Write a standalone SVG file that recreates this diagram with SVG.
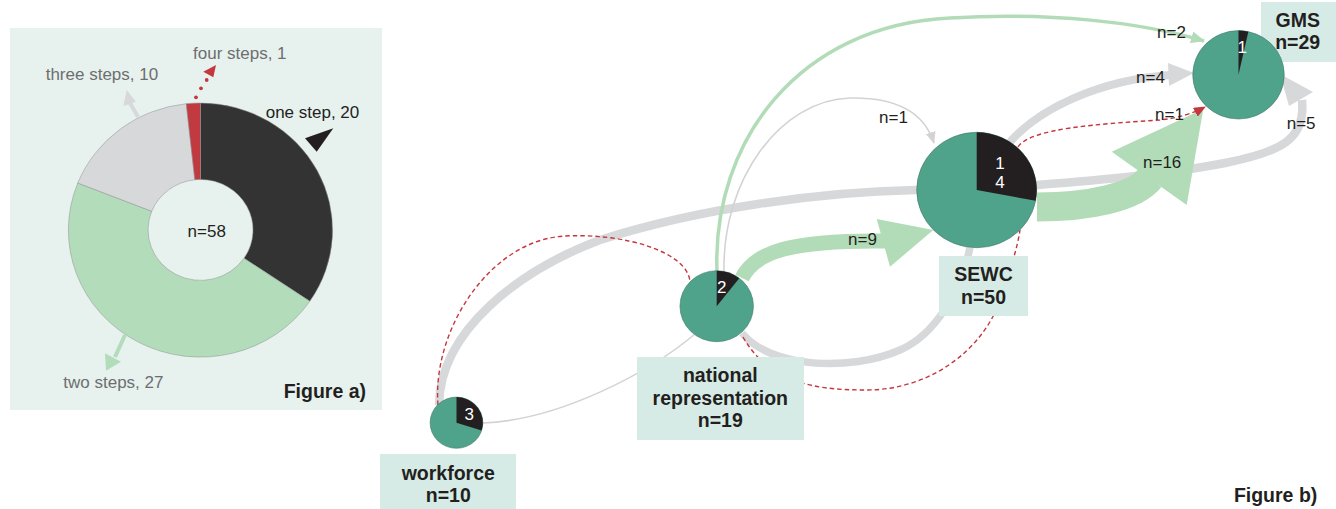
<svg xmlns="http://www.w3.org/2000/svg" width="1336" height="509" viewBox="0 0 1336 509">
  <style>
    text { font-family: "Liberation Sans", Arial, Helvetica, sans-serif; }
    .lbl { font-size: 17px; fill: #231f20; }
    .muted { font-size: 17px; fill: #6d6e70; }
    .cap { font-size: 19.5px; font-weight: bold; fill: #231f20; text-anchor: middle; }
    .fig { font-size: 19.5px; font-weight: bold; fill: #231f20; text-anchor: end; }
    .pie-num { font-size: 17px; fill: #ffffff; text-anchor: middle; }
    .box { fill: #d6ebe5; }
    .teal { fill: #50a38b; stroke: #3f7a69; stroke-width: 0.6; }
    .blk { fill: #231f20; }
    .flow-gray { fill: none; stroke: #d7d8da; stroke-linecap: butt; }
    .flow-thin { fill: none; stroke: #d3d3d5; stroke-width: 1.6; }
    .flow-green { fill: none; stroke: #b2dcb8; }
    .flow-red { fill: none; stroke: #c5363d; stroke-width: 1.4; stroke-dasharray: 4.5 3; }
    .slice { stroke: #8f9092; stroke-width: 0.5; }
  </style>
  <defs>
    <marker id="head-thin" viewBox="0 0 12 10" refX="11" refY="5" markerWidth="12" markerHeight="10" orient="auto" markerUnits="userSpaceOnUse">
      <path d="M0,0 L12,5 L0,10 Z" fill="#d3d3d5"/>
    </marker>
    <marker id="head-green" viewBox="0 0 14 12" refX="13" refY="6" markerWidth="14" markerHeight="12" orient="auto" markerUnits="userSpaceOnUse">
      <path d="M0,0 L14,6 L0,12 Z" fill="#b2dcb8"/>
    </marker>
    <marker id="head-red" viewBox="0 0 12 10" refX="11" refY="5" markerWidth="12" markerHeight="10" orient="auto" markerUnits="userSpaceOnUse">
      <path d="M0,0 L12,5 L0,10 Z" fill="#c5363d"/>
    </marker>
  </defs>

  <!-- Figure a: number of steps, donut chart -->
  <g id="figure-a">
    <rect x="10" y="28" width="372" height="382" fill="#e7f2ee"/>
    <g transform="translate(200.5,230) scale(1.04,1)">
      <path class="slice" fill="#333333" d="M0,-127 A127,127 0 0 1 105.1,71.3 L41.8,28.3 A50.5,50.5 0 0 0 0,-50.5 Z"/>
      <path class="slice" fill="#b3dcba" d="M105.1,71.3 A127,127 0 0 1 -118,-47 L-46.9,-18.7 A50.5,50.5 0 0 0 41.8,28.3 Z"/>
      <path class="slice" fill="#d7d8da" d="M-118,-47 A127,127 0 0 1 -13.7,-126.3 L-5.46,-50.2 A50.5,50.5 0 0 0 -46.9,-18.7 Z"/>
      <path class="slice" fill="#c03a40" d="M-13.7,-126.3 A127,127 0 0 1 0,-127 L0,-50.5 A50.5,50.5 0 0 0 -5.46,-50.2 Z"/>
    </g>
    <!-- step arrows -->
    <polygon points="305,138.3 333.3,128.3 316.7,151.7" fill="#231f20"/>
    <line x1="138" y1="117" x2="130" y2="103" stroke="#d7d8da" stroke-width="4"/>
    <polygon points="126.7,90 123.3,106 136,101.7" fill="#d7d8da"/>
    <circle cx="196" cy="97.3" r="1.9" fill="#c5363d"/>
    <circle cx="201" cy="88.3" r="1.9" fill="#c5363d"/>
    <circle cx="206.7" cy="80" r="1.9" fill="#c5363d"/>
    <polygon points="216,65 203.3,71.7 213.3,77.3" fill="#c5363d"/>
    <line x1="125" y1="335" x2="115" y2="357" stroke="#b3dcba" stroke-width="4"/>
    <polygon points="106,370.7 105,353.3 121,361.7" fill="#b3dcba"/>
    <text class="lbl" x="265.7" y="118.3">one step, 20</text>
    <text class="muted" x="193" y="59.3">four steps, 1</text>
    <text class="muted" x="45.7" y="80">three steps, 10</text>
    <text class="muted" x="63.3" y="388.3">two steps, 27</text>
    <text class="lbl" x="206.7" y="236.7" text-anchor="middle">n=58</text>
    <text class="fig" x="366" y="397.7">Figure a)</text>
  </g>

  <!-- Figure b: transitions between bodies -->
  <g id="connectors">
    <!-- workforce to GMS, passing behind SEWC (n=5) -->
    <path class="flow-gray" stroke-width="8.5" d="M439,405 C440,330 520,270 600,240 C700,208 820,192 915,190 L1037,185 C1100,180 1170,174 1225,163 C1280,152 1306,140 1302,100"/>
    <polygon points="1313,92 1289,106 1280,74" fill="#d7d8da"/>
    <!-- national representation to SEWC -->
    <path class="flow-gray" stroke-width="7.5" d="M742,333 C770,368 850,372 900,350 C935,335 962,290 970,247"/>
    <!-- SEWC to GMS (n=4) -->
    <path class="flow-gray" stroke-width="8" d="M1010,142 C1040,108 1100,80 1170,75"/>
    <polygon points="1168,63 1194,73 1169,86" fill="#d7d8da"/>
    <!-- workforce to national representation -->
    <path class="flow-thin" d="M483,423 C560,420 650,372 695,334"/>
    <!-- national representation to SEWC (n=1) -->
    <path class="flow-thin" marker-end="url(#head-thin)" d="M724,272 C722,180 780,100 850,98 C900,97 925,115 934,143"/>
    <!-- national representation to GMS (n=2) -->
    <path class="flow-green" stroke-width="3.5" marker-end="url(#head-green)" d="M717,272 C712,140 800,25 950,18 C1050,12 1140,22 1204,41"/>
    <!-- national representation to SEWC (n=9) -->
    <path class="flow-green" stroke-width="15" d="M742,278 C755,252 790,240 885,241"/>
    <polygon points="876.7,219 890,266.7 933.3,230" fill="#b2dcb8"/>
    <!-- SEWC to GMS (n=16) -->
    <path class="flow-green" stroke-width="29" d="M1037,207 C1090,207 1135,197 1150,178"/>
    <polygon points="1111.7,151.7 1203.3,109 1186.7,205" fill="#b2dcb8"/>
    <!-- four-step route -->
    <path class="flow-red" d="M438,405 C432,330 490,240 565,236 C625,233 688,252 690,282"/>
    <path class="flow-red" d="M743,337 C770,385 820,390 866,390 C935,390 985,345 1000,300 C1010,270 1017,250 1020,230"/>
    <path class="flow-red" marker-end="url(#head-red)" d="M1018,147 C1030,128 1100,124 1160,120 C1178,118 1194,113 1205,107"/>
    <!-- flow counts -->
    <text class="lbl" x="1157" y="38">n=2</text>
    <text class="lbl" x="1136" y="82.5">n=4</text>
    <text class="lbl" x="1155" y="120">n=1</text>
    <text class="lbl" x="1143" y="168.3">n=16</text>
    <text class="lbl" x="1286.7" y="129.3">n=5</text>
    <text class="lbl" x="879" y="122.7">n=1</text>
    <text class="lbl" x="848" y="245">n=9</text>
  </g>

  <g id="node-workforce">
    <rect class="box" x="380" y="454" width="136" height="55"/>
    <text class="cap" x="448.3" y="480">workforce</text>
    <text class="cap" x="448.3" y="501.7">n=10</text>
    <g transform="translate(456.5,422.7) scale(1.03,1)">
      <circle class="teal" r="25.6"/>
      <path class="blk" d="M0,0 L0,-25.6 A25.6,25.6 0 0 1 24.35,7.91 Z"/>
    </g>
    <text class="pie-num" x="469.3" y="420">3</text>
  </g>

  <g id="node-national-representation">
    <rect class="box" x="637" y="357" width="167" height="83"/>
    <text class="cap" x="720.3" y="382">national</text>
    <text class="cap" x="720.3" y="405">representation</text>
    <text class="cap" x="720.3" y="427.3">n=19</text>
    <g transform="translate(716.7,306.2) scale(1.035,1)">
      <circle class="teal" r="35.5"/>
      <path class="blk" d="M0,0 L0,-35.5 A35.5,35.5 0 0 1 21.8,-28.01 Z"/>
    </g>
    <text class="pie-num" x="721.7" y="293">2</text>
  </g>

  <g id="node-sewc">
    <rect class="box" x="939" y="256" width="89" height="60"/>
    <text class="cap" x="983.5" y="280.7">SEWC</text>
    <text class="cap" x="983.5" y="304">n=50</text>
    <g transform="translate(976.7,190) scale(1.04,1)">
      <circle class="teal" r="57.7"/>
      <path class="blk" d="M0,0 L0,-57.7 A57.7,57.7 0 0 1 56.68,10.81 Z"/>
    </g>
    <text class="pie-num" x="1000" y="168.5">1</text>
    <text class="pie-num" x="1000" y="188">4</text>
  </g>

  <g id="node-gms">
    <rect class="box" x="1261" y="2" width="75" height="60"/>
    <text class="cap" x="1297.7" y="26.7">GMS</text>
    <text class="cap" x="1297.7" y="49.3">n=29</text>
    <g transform="translate(1238.5,74.8) scale(1.035,1)">
      <circle class="teal" r="44.2"/>
      <path class="blk" d="M0,0 L0,-44.2 A44.2,44.2 0 0 1 9.5,-43.17 Z"/>
    </g>
    <text class="pie-num" x="1242.3" y="53">1</text>
  </g>

  <text class="fig" x="1317.3" y="502.3">Figure b)</text>
</svg>
